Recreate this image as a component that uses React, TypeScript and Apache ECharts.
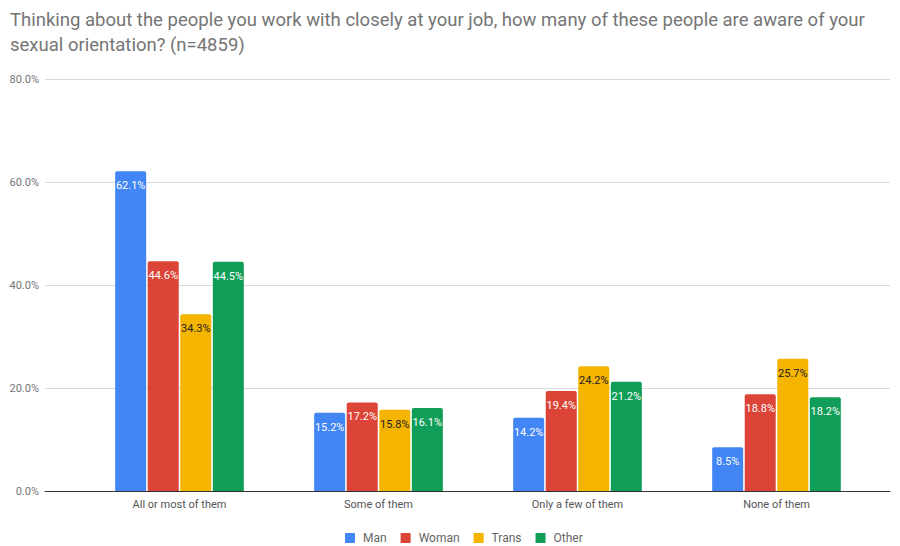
import React, { useEffect, useRef } from "react";
import * as echarts from "echarts";

const categories = ["All or most of them", "Some of them", "Only a few of them", "None of them"];
const seriesNames = ["Man", "Woman", "Trans", "Other"];
const manValues = [62.1, 15.2, 14.2, 8.5];
const womanValues = [44.6, 17.2, 19.4, 18.8];
const transValues = [34.3, 15.8, 24.2, 25.7];
const otherValues = [44.5, 16.1, 21.2, 18.2];
const colors = ["#4285F4", "#DB4437", "#F4B400", "#0F9D58"];
const labelColors = ["#ffffff", "#ffffff", "#222222", "#ffffff"];
const yTicks = [0, 20, 40, 60, 80];

export default function App() {
  const ref = useRef<HTMLDivElement>(null);
  useEffect(() => {
    if (!ref.current) return;
    const chart = echarts.init(ref.current, null, { renderer: "svg" });
    const values = [manValues, womanValues, transValues, otherValues];
    chart.setOption({
      animation: false,
      textStyle: { fontFamily: "Roboto" },
      title: {
        text: "Thinking about the people you work with closely at your job, how many of these people are aware of your\nsexual orientation? (n=4859)",
        left: 5,
        top: 2,
        textStyle: { fontSize: 18.5, fontWeight: "normal", color: "#757575", lineHeight: 25, fontFamily: "Roboto" },
      },
      legend: {
        top: 527,
        left: 340,
        itemWidth: 10,
        itemHeight: 10,
        itemGap: 14,
        icon: "rect",
        data: seriesNames,
        textStyle: { fontSize: 12, color: "#666", padding: [0, 0, 0, 3] },
      },
      grid: [
        { left: 45, right: 10, top: 79, bottom: 55 },
        { left: 80, right: 24, top: 79, bottom: 55 },
      ],
      xAxis: [
        {
          gridIndex: 0,
          type: "value",
          min: 0,
          max: 1,
          axisLine: { show: true, lineStyle: { color: "#333", width: 1 } },
          axisTick: { show: false },
          axisLabel: { show: false },
          splitLine: { show: false },
        },
        {
          gridIndex: 1,
          type: "category",
          data: categories,
          axisLine: { show: false },
          axisTick: { show: false },
          axisLabel: { fontSize: 11, color: "#555", margin: 8 },
        },
      ],
      yAxis: [
        {
          gridIndex: 0,
          type: "value",
          min: yTicks[0],
          max: yTicks[yTicks.length - 1],
          interval: 20,
          axisLine: { show: false },
          axisTick: { show: false },
          axisLabel: { fontSize: 11, color: "#757575", margin: 6, formatter: (v: number) => v.toFixed(1) + "%" },
          splitLine: { lineStyle: { color: "#d9d9d9" } },
        },
        {
          gridIndex: 1,
          type: "value",
          min: 0,
          max: 80,
          show: false,
          splitLine: { show: false },
        },
      ],
      series: seriesNames.map((name, i) => ({
        name,
        type: "bar",
        xAxisIndex: 1,
        yAxisIndex: 1,
        data: values[i],
        barWidth: 31,
        barGap: "5%",
        itemStyle: { color: colors[i], borderRadius: [2, 2, 0, 0] },
        label: {
          show: true,
          position: "insideTop",
          distance: 9,
          fontSize: 11,
          color: labelColors[i],
          formatter: (p: any) => p.value.toFixed(1) + "%",
        },
      })),
    });
    return () => chart.dispose();
  }, []);
  return <div ref={ref} style={{ position: "absolute", left: 0, top: 0, width: 900, height: 546 }} />;
}
